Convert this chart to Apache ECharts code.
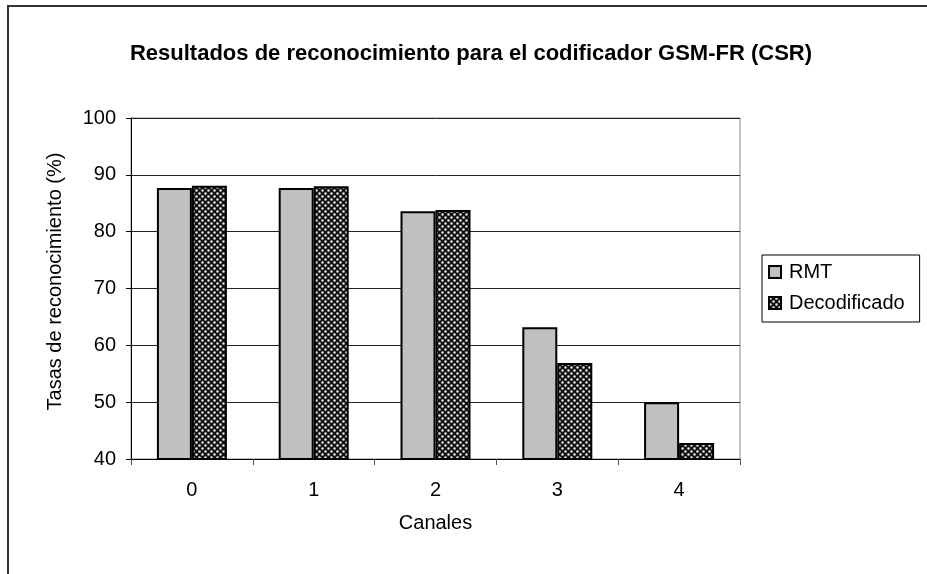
<!DOCTYPE html>
<html>
<head>
<meta charset="utf-8">
<script src="https://cdn.jsdelivr.net/npm/echarts@6/dist/echarts.min.js"></script>
<style>
  html, body { margin: 0; padding: 0; background: #fff; }
  #chart { width: 927px; height: 574px; }
</style>
</head>
<body>
<div id="chart"></div>
<script>
// data
const categories = ["0", "1", "2", "3", "4"];
const rmt = [87.7, 87.7, 83.6, 63.2, 50.0];
const decodificado = [88.1, 88.0, 83.8, 56.9, 42.8];
const seriesNames = ["RMT", "Decodificado"];

// checker / dotted fill like the old office pattern
function makePattern() {
  const c = document.createElement("canvas");
  c.width = 6;
  c.height = 6;
  const ctx = c.getContext("2d");
  ctx.fillStyle = "#111";
  ctx.fillRect(0, 0, 6, 6);
  ctx.fillStyle = "#e8e8e8";
  ctx.beginPath();
  ctx.arc(1.5, 1.5, 1.3, 0, Math.PI * 2);
  ctx.arc(4.5, 4.5, 1.3, 0, Math.PI * 2);
  ctx.fill();
  return c;
}
const pattern = { image: makePattern(), repeat: "repeat" };

const chart = echarts.init(document.getElementById("chart"));
const font = "'Liberation Sans', Arial, sans-serif";

const option = {
  animation: false,
  textStyle: { fontFamily: font },
  title: {
    text: "Resultados de reconocimiento para el codificador GSM-FR (CSR)",
    left: 466,
    top: 38,
    textAlign: "center",
    textStyle: { fontSize: 22, fontWeight: "bold", color: "#000", fontFamily: font }
  },
  graphic: [
    {
      type: "rect",
      shape: { x: 8, y: 6, width: 1000, height: 1000 },
      style: { fill: "none", stroke: "#333", lineWidth: 2 },
      silent: true
    }
  ],
  legend: {
    orient: "vertical",
    left: 762,
    top: 255,
    itemWidth: 12,
    itemHeight: 12,
    itemGap: 11,
    padding: [7, 15, 9, 6],
    borderColor: "#000",
    borderWidth: 1,
    icon: "rect",
    textStyle: { fontSize: 20, color: "#000", fontFamily: font, padding: [0, 0, 0, 3] },
    data: seriesNames
  },
  grid: {
    left: 131,
    right: 187,
    top: 118,
    bottom: 115,
    show: true,
    borderColor: "#888",
    borderWidth: 1
  },
  xAxis: {
    type: "category",
    data: categories,
    name: "Canales",
    nameLocation: "middle",
    nameGap: 54,
    nameTextStyle: { fontSize: 20, color: "#000", fontFamily: font },
    axisLine: { lineStyle: { color: "#000", width: 1 } },
    axisTick: { show: true, length: 6, lineStyle: { color: "#555" } },
    axisLabel: { fontSize: 20, color: "#000", margin: 21, fontFamily: font }
  },
  yAxis: {
    type: "value",
    min: 40,
    max: 100,
    interval: 10,
    name: "Tasas de reconocimiento (%)",
    nameLocation: "middle",
    nameGap: 66,
    nameTextStyle: { fontSize: 20, color: "#000", fontFamily: font, padding: [0, 0, 0, 14] },
    axisLine: { show: true, lineStyle: { color: "#000", width: 1 } },
    axisTick: { show: true, length: 5, lineStyle: { color: "#000" } },
    axisLabel: { fontSize: 20, color: "#000", margin: 15, fontFamily: font },
    splitLine: { show: true, lineStyle: { color: "#222", width: 1 } }
  },
  series: [
    {
      name: seriesNames[0],
      type: "bar",
      data: rmt,
      barWidth: 35,
      barGap: "0%",
      itemStyle: { color: "#c0c0c0", borderColor: "#000", borderWidth: 2 }
    },
    {
      name: seriesNames[1],
      type: "bar",
      data: decodificado,
      barWidth: 35,
      itemStyle: { color: pattern, borderColor: "#000", borderWidth: 2 }
    }
  ]
};

chart.setOption(option);
</script>
</body>
</html>
